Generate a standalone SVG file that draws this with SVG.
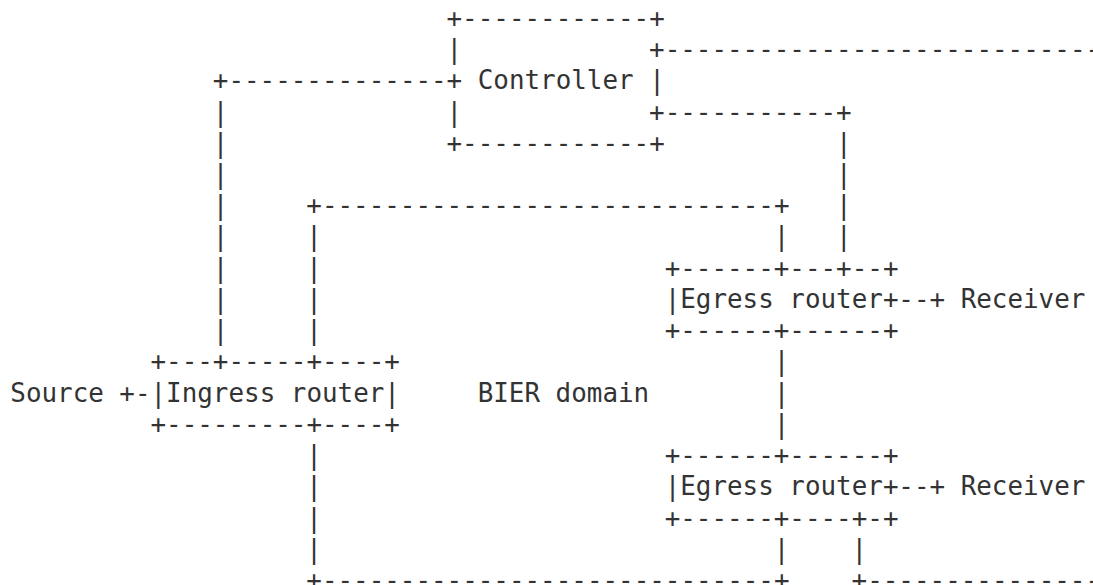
<svg xmlns="http://www.w3.org/2000/svg" width="1093" height="585" viewBox="0 0 1093 585">
<style>
text{font-family:"DejaVu Sans Mono","Liberation Mono",monospace;font-size:25.9px;fill:#333;white-space:pre}
</style>
<rect width="1093" height="585" fill="#fff"/>
<g id="connectors">
<text x="664.66" y="58.04">-----------------------------</text>
<text x="212.84" y="89.28">+--------------</text>
<text x="664.66" y="120.52">-----------+</text>
<text x="212.84" y="120.52">|</text>
<text x="212.84" y="151.76">|</text><text x="836.04" y="151.76">|</text>
<text x="212.84" y="183">|</text><text x="836.04" y="183">|</text>
<text x="212.84" y="214.24">|</text><text x="306.32" y="214.24">+-----------------------------+</text><text x="836.04" y="214.24">|</text>
<text x="212.84" y="245.48">|</text><text x="306.32" y="245.48">|</text><text x="773.72" y="245.48">|</text><text x="836.04" y="245.48">|</text>
<text x="212.84" y="276.72">|</text><text x="306.32" y="276.72">|</text>
<text x="212.84" y="307.96">|</text><text x="306.32" y="307.96">|</text>
<text x="212.84" y="339.2">|</text><text x="306.32" y="339.2">|</text>
<text x="773.72" y="370.44">|</text>
<text x="773.72" y="401.68">|</text>
<text x="773.72" y="432.92">|</text>
<text x="306.32" y="464.16">|</text>
<text x="306.32" y="495.4">|</text>
<text x="306.32" y="526.64">|</text>
<text x="306.32" y="557.88">|</text><text x="773.72" y="557.88">|</text><text x="851.62" y="557.88">|</text>
<text x="306.32" y="589.12">+-----------------------------+</text><text x="851.62" y="589.12">+----------------</text>
<text x="119.36" y="401.68">+-</text>
<text x="898.36" y="307.96">--+</text>
<text x="898.36" y="495.4">--+</text>
</g>
<g id="controller">
<text x="446.54" y="26.8">+------------+</text>
<text x="446.54" y="58.04">|</text><text x="649.08" y="58.04">+</text>
<text x="446.54" y="89.28">+ Controller |</text>
<text x="446.54" y="120.52">|</text><text x="649.08" y="120.52">+</text>
<text x="446.54" y="151.76">+------------+</text>
</g>
<g id="ingress-router">
<text x="150.52" y="370.44">+---+-----+----+</text>
<text x="150.52" y="401.68">|Ingress router|</text>
<text x="150.52" y="432.92">+---------+----+</text>
</g>
<g id="source">
<text x="10.3" y="401.68">Source</text>
</g>
<g id="bier-domain">
<text x="477.7" y="401.68">BIER domain</text>
</g>
<g id="egress-router-1">
<text x="664.66" y="276.72">+------+---+--+</text>
<text x="664.66" y="307.96">|Egress router+</text>
<text x="664.66" y="339.2">+------+------+</text>
</g>
<g id="receiver-1">
<text x="960.68" y="307.96">Receiver</text>
</g>
<g id="egress-router-2">
<text x="664.66" y="464.16">+------+------+</text>
<text x="664.66" y="495.4">|Egress router+</text>
<text x="664.66" y="526.64">+------+----+-+</text>
</g>
<g id="receiver-2">
<text x="960.68" y="495.4">Receiver</text>
</g>
</svg>
